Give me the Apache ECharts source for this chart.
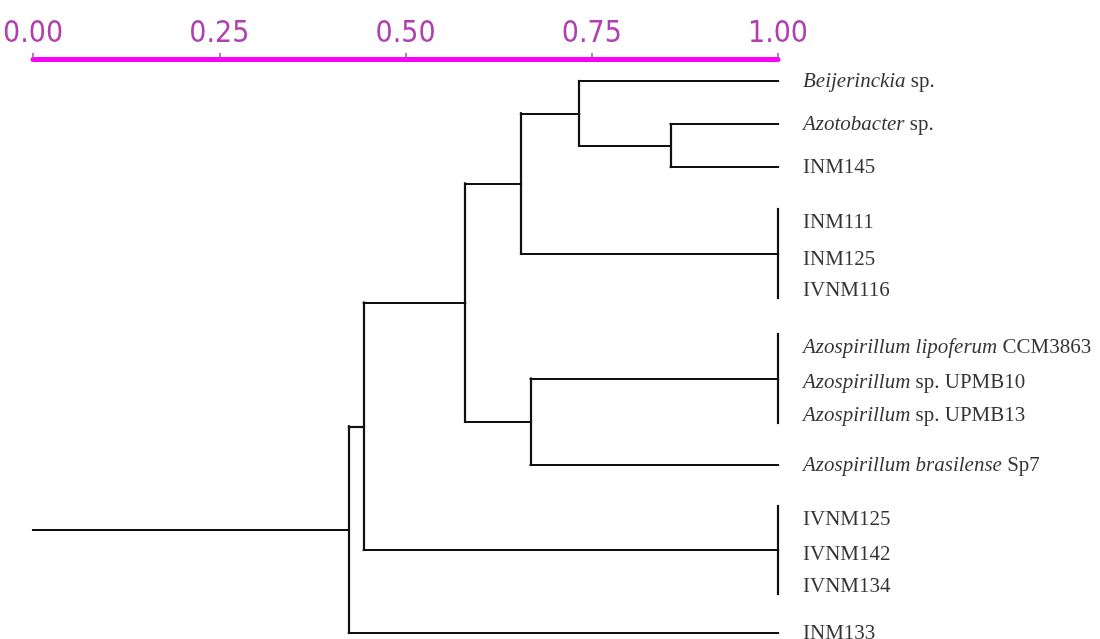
<!DOCTYPE html>
<html>
<head>
<meta charset="utf-8">
<script src="https://cdn.jsdelivr.net/npm/echarts@6/dist/echarts.min.js"></script>
<style>
  html, body { margin: 0; padding: 0; background: #ffffff; }
  #chart { width: 1100px; height: 639px; }
</style>
</head>
<body>
<div id="chart"></div>
<script>
// ---- Data ----
// Leaf labels: italic part and roman part
const leafItalic = ['Beijerinckia', 'Azotobacter', '', '', '', '', 'Azospirillum lipoferum', 'Azospirillum', 'Azospirillum', 'Azospirillum brasilense', '', '', '', ''];
const leafRoman  = [' sp.', ' sp.', 'INM145', 'INM111', 'INM125', 'IVNM116', ' CCM3863', ' sp. UPMB10', ' sp. UPMB13', ' Sp7', 'IVNM125', 'IVNM142', 'IVNM134', 'INM133'];
// Leaf row positions (vertical axis units, top to bottom)
const leafPos = [81, 124, 167, 222, 259, 290, 347, 382, 415, 465, 519, 554, 586, 633];
// Clusters: children indices (0-13 leaves, 14+ clusters in order) and similarity level
const clusterChildren = [
  [3, 4, 5],     // 14
  [6, 7, 8],     // 15
  [10, 11, 12],  // 16
  [1, 2],        // 17
  [0, 17],       // 18
  [18, 14],      // 19
  [15, 9],       // 20
  [19, 20],      // 21
  [21, 16],      // 22
  [22, 13]       // 23 (root)
];
const clusterLevel = [1.00, 1.00, 1.00, 0.856, 0.733, 0.655, 0.668, 0.580, 0.444, 0.424];
const tickValues = [0, 0.25, 0.5, 0.75, 1.0];

// ---- Build dendrogram segments ----
const nLeaf = leafPos.length;
const nodeY = leafPos.slice();
const nodeH = leafPos.map(() => 1.0);
const segs = [];
const padTop = 13, padBottom = 8;
clusterChildren.forEach((ch, k) => {
  const h = clusterLevel[k];
  const ys = ch.map(c => nodeY[c]);
  let yMin = Math.min(...ys), yMax = Math.max(...ys);
  const zeroCluster = ch.every(c => c < nLeaf && h === 1.0);
  if (zeroCluster) { yMin -= padTop; yMax += padBottom; }
  else {
    ch.forEach(c => {
      if (nodeH[c] !== h) segs.push([[nodeH[c], nodeY[c]], [h, nodeY[c]]]);
    });
  }
  segs.push([[h, yMin], [h, yMax]]);
  nodeY.push((yMin + yMax) / 2);
  nodeH.push(h);
});
const rootIdx = nodeY.length - 1;
segs.push([[nodeH[rootIdx], nodeY[rootIdx]], [0, nodeY[rootIdx]]]);

// leaf labels
const leafData = leafPos.map((y, i) => {
  const it = leafItalic[i], ro = leafRoman[i];
  let f = '';
  if (it) f += '{i|' + it + '}';
  if (ro) f += '{n|' + ro + '}';
  return { value: [1.0, y], label: { formatter: f } };
});

const serif = "'Liberation Serif', 'Times New Roman', serif";
const chart = echarts.init(document.getElementById('chart'), null, { renderer: 'canvas' });
chart.setOption({
  animation: false,
  backgroundColor: '#ffffff',
  grid: { left: 33, right: 322, top: 59, bottom: 0, containLabel: false },
  xAxis: {
    type: 'value', position: 'top', min: 0, max: 1, interval: 0.25,
    axisLine: { show: true, lineStyle: { color: '#ff00ff', width: 5 } },
    axisTick: { show: true, length: 6, lineStyle: { color: '#a050a0', width: 1.5 } },
    axisLabel: {
      margin: 10,
      color: '#b040b0',
      fontSize: 30,
      fontFamily: "'Liberation Sans Narrow', 'DejaVu Sans Condensed', 'DejaVu Sans Mono', monospace",
      formatter: v => tickValues.indexOf(v) >= 0 ? v.toFixed(2) : ''
    },
    splitLine: { show: false }
  },
  yAxis: {
    type: 'value', min: 59, max: 639, inverse: true, show: false,
    splitLine: { show: false }
  },
  series: [
    {
      type: 'lines', coordinateSystem: 'cartesian2d', silent: true,
      lineStyle: { color: '#111111', width: 2.2, opacity: 1, cap: 'square' },
      data: segs.map(s => ({ coords: s }))
    },
    {
      type: 'scatter', symbolSize: 0, silent: true, clip: false,
      data: leafData,
      label: {
        show: true, position: 'right', distance: 25,
        fontFamily: serif, fontSize: 21, color: '#000',
        rich: {
          i: { fontStyle: 'italic', fontFamily: serif, fontSize: 21, color: '#000' },
          n: { fontFamily: serif, fontSize: 21, color: '#000' }
        }
      }
    }
  ]
});
</script>
</body>
</html>
